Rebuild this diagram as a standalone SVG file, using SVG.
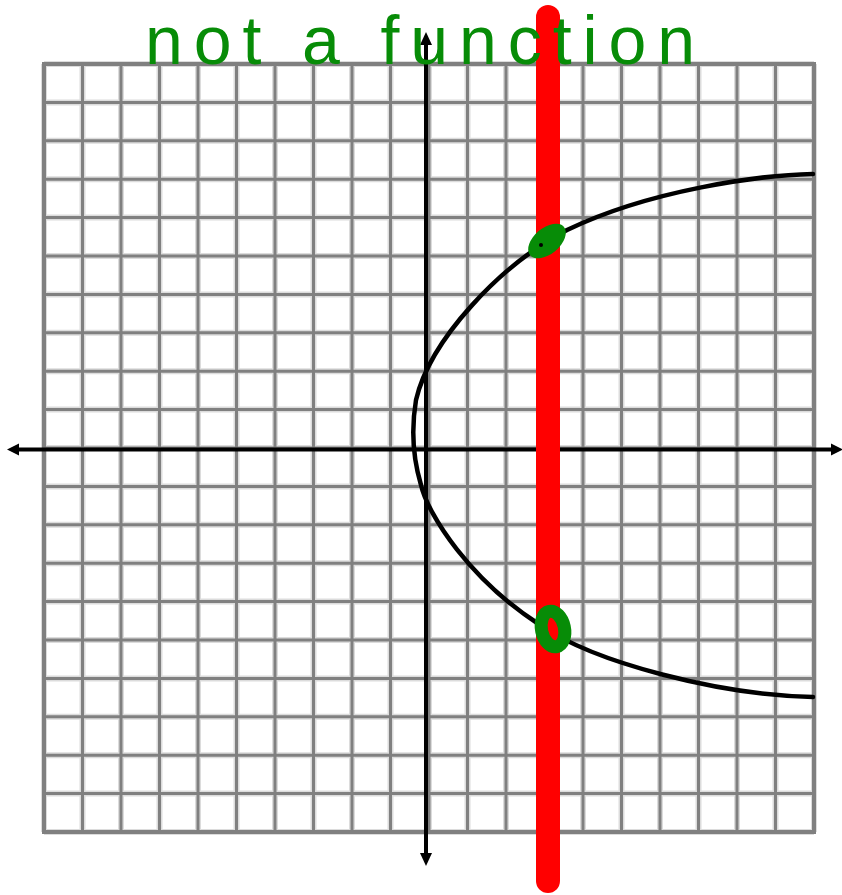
<svg xmlns="http://www.w3.org/2000/svg" width="842" height="895" viewBox="0 0 842 895">
<defs>
<style>
.halo{stroke:#dcdcdc;stroke-width:6;fill:none}
.grid{stroke:#808080;stroke-width:3;fill:none}
.axis{stroke:#000;stroke-width:4;fill:none}
.head{fill:#000}
.curve{stroke:#000;stroke-width:4.5;fill:none;stroke-linecap:round}
.mark{fill:#078c07}
.title{font-family:"Liberation Sans","DejaVu Sans",sans-serif;font-size:68px;fill:#078c07}
</style>
</defs>
<rect width="842" height="895" fill="#fff"/>
<g id="grid">
<path class="halo" d="M44,64V832M82.5,64V832M121,64V832M159.5,64V832M198,64V832M236.5,64V832M275,64V832M313.5,64V832M352,64V832M390.5,64V832M429,64V832M467.5,64V832M506,64V832M544.5,64V832M583,64V832M621.5,64V832M660,64V832M698.5,64V832M737,64V832M775.5,64V832M814,64V832M44,64H814M44,102.4H814M44,140.8H814M44,179.2H814M44,217.6H814M44,256H814M44,294.4H814M44,332.8H814M44,371.2H814M44,409.6H814M44,448H814M44,486.4H814M44,524.8H814M44,563.2H814M44,601.6H814M44,640H814M44,678.4H814M44,716.8H814M44,755.2H814M44,793.6H814M44,832H814"/>
<path class="grid" d="M82.5,64V832M121,64V832M159.5,64V832M198,64V832M236.5,64V832M275,64V832M313.5,64V832M352,64V832M390.5,64V832M429,64V832M467.5,64V832M506,64V832M544.5,64V832M583,64V832M621.5,64V832M660,64V832M698.5,64V832M737,64V832M775.5,64V832M44,102.4H814M44,140.8H814M44,179.2H814M44,217.6H814M44,256H814M44,294.4H814M44,332.8H814M44,371.2H814M44,409.6H814M44,448H814M44,486.4H814M44,524.8H814M44,563.2H814M44,601.6H814M44,640H814M44,678.4H814M44,716.8H814M44,755.2H814M44,793.6H814"/>
<rect x="44" y="64" width="770" height="768" fill="none" stroke="#808080" stroke-width="4"/>
</g>
<g id="axes">
<line class="axis" x1="16" y1="449.5" x2="834" y2="449.5"/>
<polygon class="head" points="7,449.5 19,443.5 19,455.5"/>
<polygon class="head" points="843,449.5 831,443.5 831,455.5"/>
<line class="axis" x1="426" y1="42" x2="426" y2="856"/>
<polygon class="head" points="426,32 420,45 432,45"/>
<polygon class="head" points="426,866 420,853 432,853"/>
</g>
<g id="relation">
<path class="curve" d="M813,174 C760,175 650,190 567,230 C500,265 430,340 416,400 C412,424 412,455 421,485 C428,515 470,580 540,625 C595,663 720,695 813,697"/>
</g>
<g id="vertical-line-test">
<line x1="548" y1="17" x2="548" y2="881" stroke="#ff0000" stroke-width="24" stroke-linecap="round"/>
</g>
<g id="intersections">
<ellipse class="mark" cx="547" cy="241" rx="22" ry="13" transform="rotate(-40 547 241)"/>
<circle cx="541" cy="245" r="2" fill="#000"/>
<ellipse cx="553" cy="629" rx="11.5" ry="18" transform="rotate(-12 553 629)" fill="none" stroke="#078c07" stroke-width="13"/>
</g>
<g id="title">
<text class="title" x="145" y="64" textLength="550" lengthAdjust="spacing">not a function</text>
</g>
</svg>
